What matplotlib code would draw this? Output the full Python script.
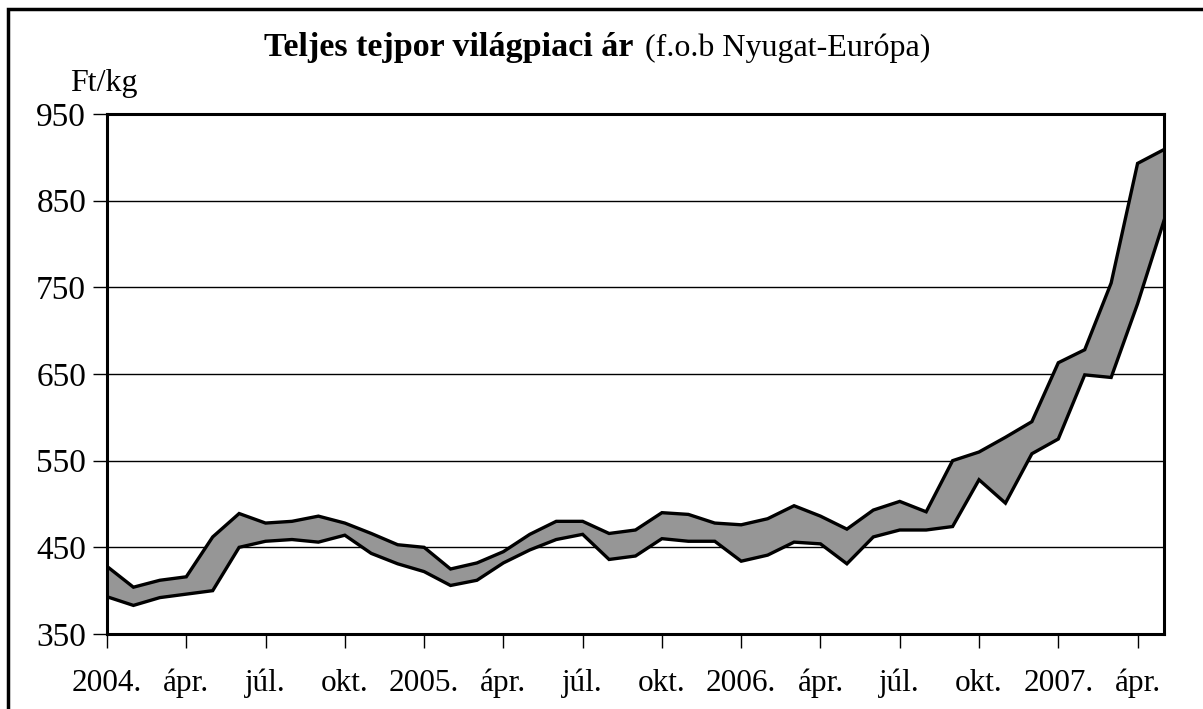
import matplotlib
matplotlib.use("Agg")
import matplotlib.pyplot as plt
import numpy as np
from matplotlib.patches import Rectangle

plt.rcParams['font.family'] = ['Liberation Serif', 'DejaVu Serif']

# monthly data, 2004 Jan .. 2007 May
upper = [428, 404, 412, 416, 462, 489, 478, 480, 486, 478,
         466, 453, 450, 425, 432, 445, 465, 480, 480, 466,
         470, 490, 488, 478, 476, 483, 498, 486, 471, 493,
         503, 491, 550, 560, 577, 595, 663, 678, 755, 893, 909]
lower = [393, 383, 392, 396, 400, 450, 457, 459, 456, 464,
         443, 431, 422, 406, 412, 432, 447, 459, 465, 436,
         440, 460, 457, 457, 434, 441, 456, 454, 431, 462,
         470, 470, 474, 528, 501, 558, 575, 649, 646, 731, 827]
tick_labels = ['2004.', 'ápr.', 'júl.', 'okt.', '2005.', 'ápr.', 'júl.',
               'okt.', '2006.', 'ápr.', 'júl.', 'okt.', '2007.', 'ápr.']
y_ticks = [350, 450, 550, 650, 750, 850, 950]

x = np.arange(len(upper))

fig = plt.figure(figsize=(12.03, 7.09), dpi=100)
ax = fig.add_axes([107/1203, 1 - 634/709, (1164 - 107)/1203, (634 - 114)/709])

ax.fill_between(x, lower, upper, color='#969696', zorder=2, linewidth=0)
ax.plot(x, upper, color='black', lw=2.4, zorder=3, solid_joinstyle='miter')
ax.plot(x, lower, color='black', lw=2.4, zorder=3, solid_joinstyle='miter')

ax.set_xlim(0, len(upper) - 1)
ax.set_ylim(350, 950)
ax.set_yticks(y_ticks)
ax.set_xticks(np.arange(0, len(upper), 3))
ax.set_xticklabels(tick_labels)
ax.yaxis.grid(True, color='black', lw=1)
ax.set_axisbelow(True)
for s in ax.spines.values():
    s.set_linewidth(2.2)
ax.tick_params(axis='both', direction='out', length=10, width=1)
ax.tick_params(axis='x', labelsize=22.5, pad=15)
ax.tick_params(axis='y', labelsize=24, pad=5)

fig.text(633/1203, 1 - 56/709, 'Teljes tejpor világpiaci ár', fontsize=24.5,
         fontweight='bold', ha='right', va='baseline')
fig.text(645/1203, 1 - 56/709, '(f.o.b Nyugat-Európa)', fontsize=23,
         ha='left', va='baseline')
fig.text(70/1203, 1 - 91/709, 'Ft/kg', fontsize=23, ha='left', va='baseline')

fig.patches.append(Rectangle((8/1203, -0.1), 1.1, 1.1 - 9/709, fill=False,
                             lw=2.5, edgecolor='black', transform=fig.transFigure))

fig.savefig('out.png', dpi=100)
